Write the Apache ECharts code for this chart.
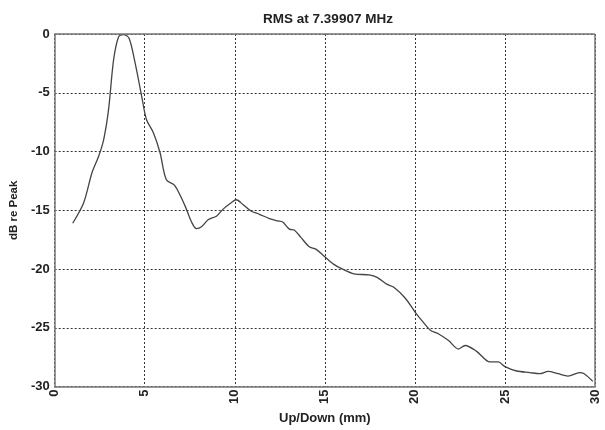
<!DOCTYPE html>
<html><head><meta charset="utf-8">
<script src="https://cdn.jsdelivr.net/npm/echarts@6/dist/echarts.min.js"></script>
<style>html,body{margin:0;padding:0;background:#fff}#c{width:605px;height:430px}</style>
</head><body><div id="c"></div>
<script>
const titleText = "RMS at 7.39907 MHz";
const xName = "Up/Down (mm)";
const yName = "dB re Peak";
const xPos = [1.0,1.61,2.07,2.44,2.72,2.99,3.27,3.55,3.82,4.13,4.47,4.83,5.1,5.48,5.85,6.2,6.67,7.23,7.6,7.87,8.15,8.52,8.98,9.35,9.8,10.08,10.45,10.9,11.37,11.92,12.38,12.66,13.03,13.3,13.67,14.13,14.5,14.96,15.5,15.98,16.62,17.45,17.9,18.46,18.83,19.48,20.03,20.4,20.86,21.3,21.87,22.42,22.79,23.43,24.17,24.63,25.0,25.65,26.38,26.93,27.4,27.95,28.5,29.14,29.4,29.88];
const dbVals = [-16.1,-14.35,-11.8,-10.4,-8.98,-6.44,-2.2,-0.23,-0.05,-0.37,-2.5,-5.3,-7.3,-8.4,-10.1,-12.4,-12.9,-14.6,-16.0,-16.55,-16.4,-15.8,-15.5,-14.9,-14.35,-14.1,-14.5,-15.06,-15.34,-15.7,-15.9,-16.0,-16.6,-16.67,-17.3,-18.1,-18.3,-18.9,-19.6,-20.0,-20.4,-20.5,-20.7,-21.3,-21.55,-22.5,-23.7,-24.4,-25.2,-25.5,-26.08,-26.8,-26.5,-27.0,-27.9,-27.9,-28.3,-28.67,-28.8,-28.9,-28.7,-28.9,-29.1,-28.8,-28.9,-29.55];
const xTicks = [0,5,10,15,20,25,30];
const yTicks = [-30,-25,-20,-15,-10,-5,0];

const chart = echarts.init(document.getElementById('c'));
const font = "'Liberation Sans', Arial, sans-serif";
chart.setOption({
  animation: false,
  title: {text: titleText, left: 323, top: 7, textAlign: 'center',
    textStyle: {fontFamily: font, fontSize: 13.5, fontWeight: 'bold', color: '#222'}},
  grid: {left: 53, right: 10, top: 34, bottom: 42, show: false},
  xAxis: {type: 'value', min: xTicks[0], max: xTicks[xTicks.length-1], interval: 5,
    name: xName, nameLocation: 'middle', nameGap: 25,
    nameTextStyle: {fontFamily: font, fontSize: 13, fontWeight: 'bold', color: '#222'},
    axisLine: {show: true, onZero: false, lineStyle: {color: '#777', width: 1.5}},
    axisTick: {show: false},
    axisLabel: {rotate: 90, margin: 3, fontFamily: font, fontSize: 13, fontWeight: 'bold', color: '#222'},
    splitLine: {show: true, lineStyle: {color: '#333', type: [2, 2], width: 1}}},
  yAxis: {type: 'value', min: yTicks[0], max: yTicks[yTicks.length-1], interval: 5,
    name: yName, nameLocation: 'middle', nameGap: 33,
    nameTextStyle: {fontFamily: font, fontSize: 11.5, fontWeight: 'bold', color: '#222'},
    axisLine: {show: true, onZero: false, lineStyle: {color: '#777', width: 1.5}},
    axisTick: {show: false},
    axisLabel: {margin: 5, fontFamily: font, fontSize: 13, fontWeight: 'bold', color: '#222'},
    splitLine: {show: true, lineStyle: {color: '#333', type: [2, 2], width: 1}}},
  series: [
    {type: 'line', data: xPos.map((x, i) => [x, dbVals[i]]), smooth: 0.3, symbol: 'none',
     lineStyle: {color: '#444', width: 1.3}},
    {type: 'line', data: [], markLine: {silent: true, symbol: 'none', label: {show: false},
      lineStyle: {color: '#777', type: 'solid', width: 1.5},
      data: [{xAxis: xTicks[xTicks.length-1]}, {yAxis: yTicks[yTicks.length-1]}]}}
  ]
});
</script></body></html>
